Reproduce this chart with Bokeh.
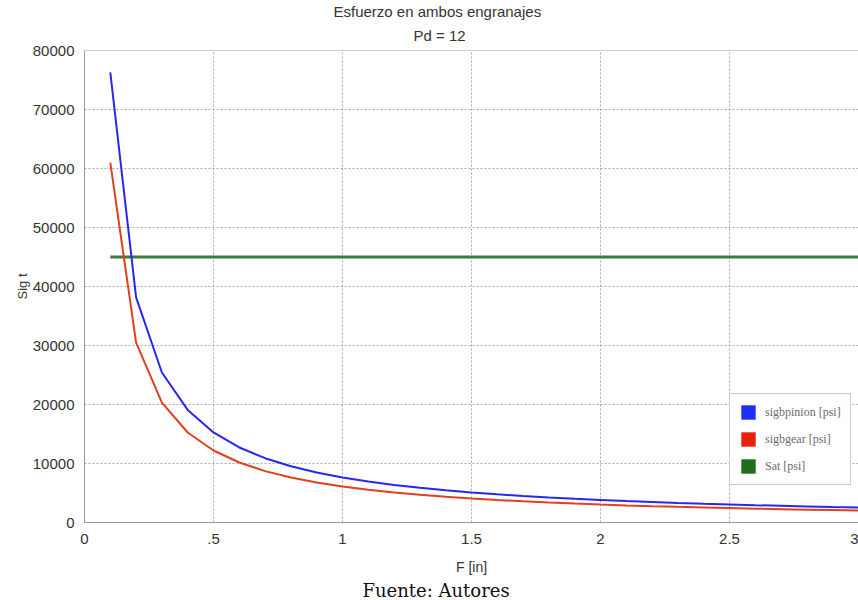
from bokeh.plotting import figure
from bokeh.models import (Range1d, FixedTicker, Legend, LegendItem, Span, Title,
                          ColumnDataSource)
from bokeh.embed import file_html
from bokeh.resources import INLINE

# Face width F [in]
face_width = [0.1, 0.2, 0.3, 0.4, 0.5, 0.6, 0.7, 0.8, 0.9, 1.0,
              1.1, 1.2, 1.3, 1.4, 1.5, 1.6, 1.7, 1.8, 1.9, 2.0,
              2.1, 2.2, 2.3, 2.4, 2.5, 2.6, 2.7, 2.8, 2.9, 3.0]

# Bending stress in the pinion [psi]
sig_pinion = [76300, 38150, 25430, 19080, 15260, 12720, 10900, 9540, 8480, 7630,
              6940, 6360, 5870, 5450, 5090, 4770, 4490, 4240, 4020, 3820,
              3630, 3470, 3320, 3180, 3050, 2930, 2830, 2730, 2630, 2540]

# Bending stress in the gear [psi]
sig_gear = [61000, 30500, 20330, 15250, 12200, 10170, 8710, 7630, 6780, 6100,
            5550, 5080, 4690, 4360, 4070, 3810, 3590, 3390, 3210, 3050,
            2900, 2770, 2650, 2540, 2440, 2350, 2260, 2180, 2100, 2030]

# Allowable stress Sat [psi]
sat = [45000] * len(face_width)

x_tick_vals = [0, 0.5, 1, 1.5, 2, 2.5, 3]
x_tick_labels = ["0", ".5", "1", "1.5", "2", "2.5", "3"]
y_tick_vals = [0, 10000, 20000, 30000, 40000, 50000, 60000, 70000, 80000]

src = ColumnDataSource(dict(F=face_width, pinion=sig_pinion, gear=sig_gear, sat=sat))

SANS = "Liberation Sans"
GRAY = "#9a9a9a"
TXT = "#333333"

p = figure(frame_width=774, frame_height=472,
           min_border_left=84, min_border_right=0,
           min_border_top=50, min_border_bottom=78,
           x_range=Range1d(0, 3), y_range=Range1d(0, 80000),
           output_backend="svg", toolbar_location=None,
           background_fill_color="white", border_fill_color="white")
p.outline_line_color = None

# Axes
for ax in (p.xaxis[0], p.yaxis[0]):
    ax.axis_line_color = GRAY
    ax.major_tick_in = 0
    ax.major_tick_out = 0
    ax.minor_tick_in = 0
    ax.minor_tick_out = 0
    ax.major_label_text_font = SANS
    ax.major_label_text_font_size = "15px"
    ax.major_label_text_color = TXT
    ax.axis_label_text_font = SANS
    ax.axis_label_text_font_style = "normal"
    ax.axis_label_text_color = TXT

p.xaxis.ticker = FixedTicker(ticks=x_tick_vals)
p.xaxis.major_label_overrides = {v: s for v, s in zip(x_tick_vals, x_tick_labels)}
p.xaxis.major_label_standoff = 11
p.xaxis.axis_label = "F [in]"
p.xaxis.axis_label_text_font_size = "14px"
p.xaxis.axis_label_standoff = 12

p.yaxis.ticker = FixedTicker(ticks=y_tick_vals)
p.yaxis.formatter.use_scientific = False
p.yaxis.major_label_standoff = 10
p.yaxis.axis_label = "Sig t"
p.yaxis.axis_label_text_font_size = "13px"
p.yaxis.axis_label_standoff = 0

# Dotted grid
for g in (p.xgrid[0], p.ygrid[0]):
    g.grid_line_color = "#a8a8a8"
    g.grid_line_dash = "2 2"
    g.grid_line_width = 1

# Frame top edge
p.add_layout(Span(location=80000, dimension="width", line_color=GRAY, line_width=1))

# Curves
r_sat = p.line("F", "sat", source=src, line_color="#3b7d3b", line_width=3)
r_pin = p.line("F", "pinion", source=src, line_color="#2727ee", line_width=2)
r_gear = p.line("F", "gear", source=src, line_color="#e2401c", line_width=2)

# Square swatches for the legend (a single undrawn row each)
nan = float("nan")


def swatch(color):
    s = ColumnDataSource(dict(l=[nan], r=[nan], b=[nan], t=[nan]))
    return p.quad(left="l", right="r", bottom="b", top="t", source=s,
                  fill_color=color, line_color=None)


sw_pin = swatch("#1f2ff5")
sw_gear = swatch("#e8200c")
sw_sat = swatch("#1f6e1f")

legend = Legend(items=[LegendItem(label="sigbpinion [psi]", renderers=[sw_pin]),
                       LegendItem(label="sigbgear [psi]", renderers=[sw_gear]),
                       LegendItem(label="Sat [psi]", renderers=[sw_sat])],
                location=(645, 37), orientation="vertical",
                glyph_width=18, glyph_height=18, spacing=9,
                padding=9, margin=0, label_standoff=8,
                label_text_font="Liberation Serif", label_text_font_size="12px",
                label_text_color="#6a6a6a", label_height=18,
                border_line_color=GRAY, border_line_width=1,
                background_fill_color="white", background_fill_alpha=1)
p.add_layout(legend, "center")

# Two-line chart title (first added sits closest to the frame)
p.add_layout(Title(text="Pd = 12", align="left", offset=329, standoff=12,
                   vertical_align="middle",
                   text_font=SANS, text_font_size="15px", text_font_style="normal",
                   text_color=TXT), "above")
p.add_layout(Title(text="Esfuerzo en ambos engranajes", align="left", offset=249,
                   standoff=0, text_font=SANS, text_font_size="15px",
                   text_font_style="normal", text_color=TXT), "above")

# Source note under the chart
p.add_layout(Title(text="Fuente: Autores", align="left", offset=278, standoff=0,
                   text_font="DejaVu Serif", text_font_size="18px",
                   text_font_style="normal", text_color="#111111"), "below")

open("out.html", "w").write(file_html(p, INLINE))
